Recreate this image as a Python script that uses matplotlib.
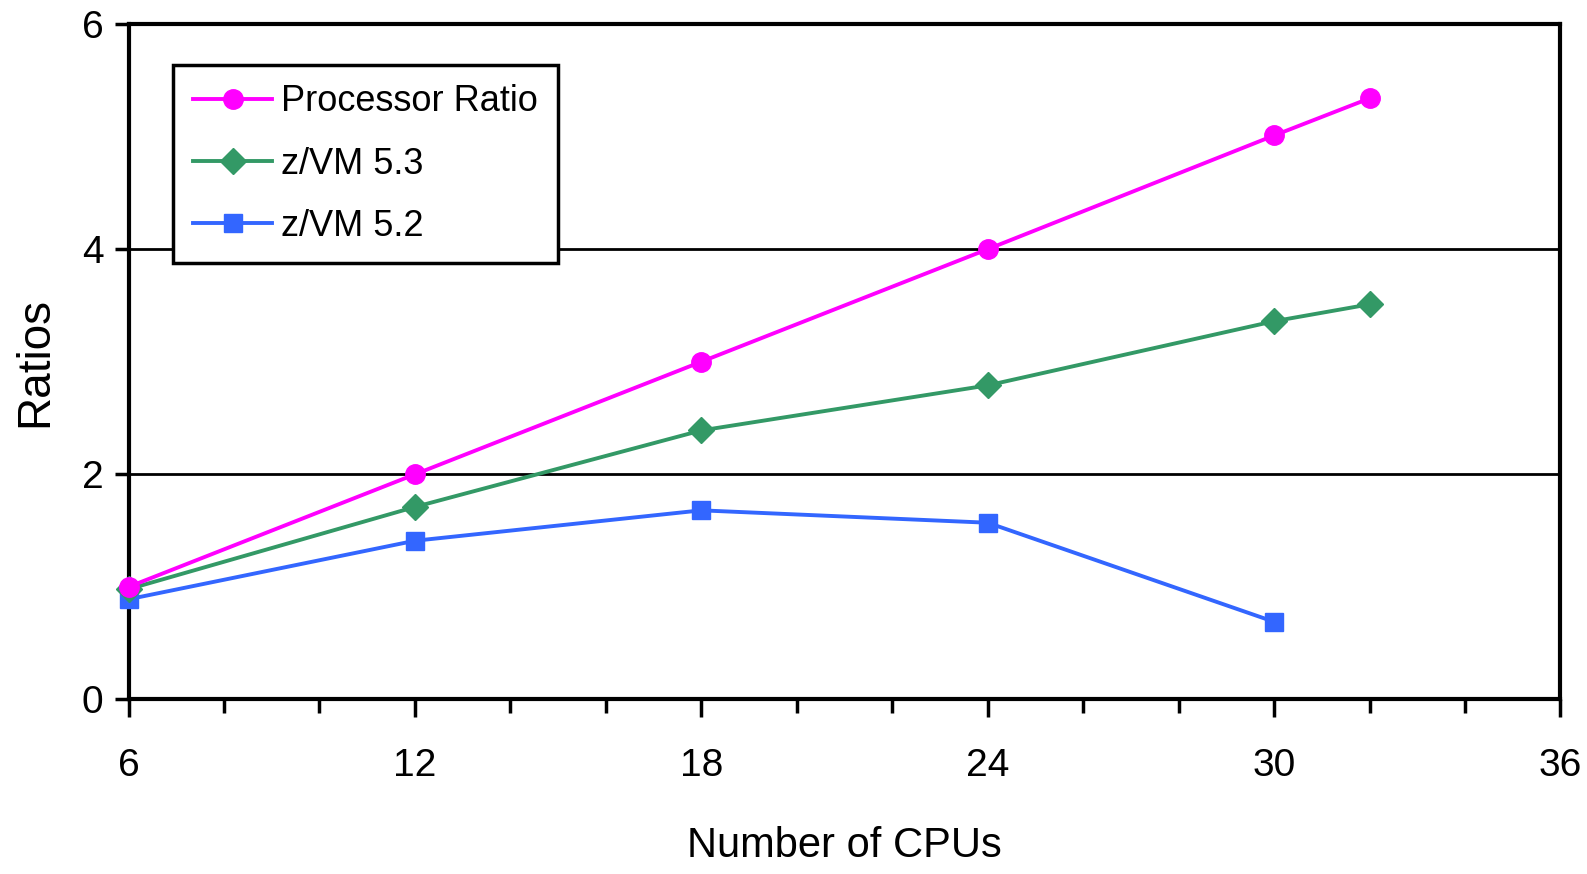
import matplotlib
matplotlib.use("Agg")
import matplotlib.pyplot as plt
from matplotlib.ticker import MultipleLocator

plt.rcParams['font.family'] = ['Liberation Sans', 'DejaVu Sans']

cpus_a = [6, 12, 18, 24, 30, 32]
processor_ratio = [1.0, 2.0, 3.0, 4.0, 5.01, 5.34]
zvm53 = [0.98, 1.71, 2.39, 2.79, 3.36, 3.51]
cpus_b = [6, 12, 18, 24, 30]
zvm52 = [0.89, 1.41, 1.68, 1.57, 0.69]

fig = plt.figure(figsize=(15.87, 8.74), dpi=100)
ax = fig.add_axes([0.081, 0.1997, 0.9023, 0.7728])

ax.plot(cpus_a, processor_ratio, color='#FF00FF', lw=2.8, marker='o', ms=14,
        label='Processor Ratio', clip_on=False, zorder=5)
ax.plot(cpus_a, zvm53, color='#339966', lw=2.8, marker='D', ms=13,
        label='z/VM 5.3', clip_on=False, zorder=4)
ax.plot(cpus_b, zvm52, color='#3366FF', lw=2.8, marker='s', ms=13,
        label='z/VM 5.2', clip_on=False, zorder=3)

ax.set_xlim(6, 36)
ax.set_ylim(0, 6)
ax.xaxis.set_major_locator(MultipleLocator(6))
ax.xaxis.set_minor_locator(MultipleLocator(2))
ax.yaxis.set_major_locator(MultipleLocator(2))
ax.grid(axis='y', color='black', lw=2)
ax.set_axisbelow(True)
for s in ax.spines.values():
    s.set_linewidth(3)
    s.set_color('black')
ax.tick_params(axis='x', which='major', direction='out', length=13, width=2.5,
               labelsize=28, pad=22)
ax.tick_params(axis='x', which='minor', direction='out', length=10, width=2.5)
ax.tick_params(axis='y', direction='out', length=10, width=2.5, labelsize=28, pad=8)

ax.set_xlabel('Number of CPUs', fontsize=30, labelpad=30)
ax.set_ylabel('Ratios', fontsize=33, labelpad=18)

leg = ax.legend(loc='upper left', bbox_to_anchor=(0.031, 0.94), fontsize=26,
                frameon=True, fancybox=False, edgecolor='black', framealpha=1,
                handlelength=2.2, handletextpad=0.25, borderpad=0.55,
                labelspacing=0.75, borderaxespad=0)
leg.get_frame().set_linewidth(2.5)

fig.savefig('out.png', dpi=100)
